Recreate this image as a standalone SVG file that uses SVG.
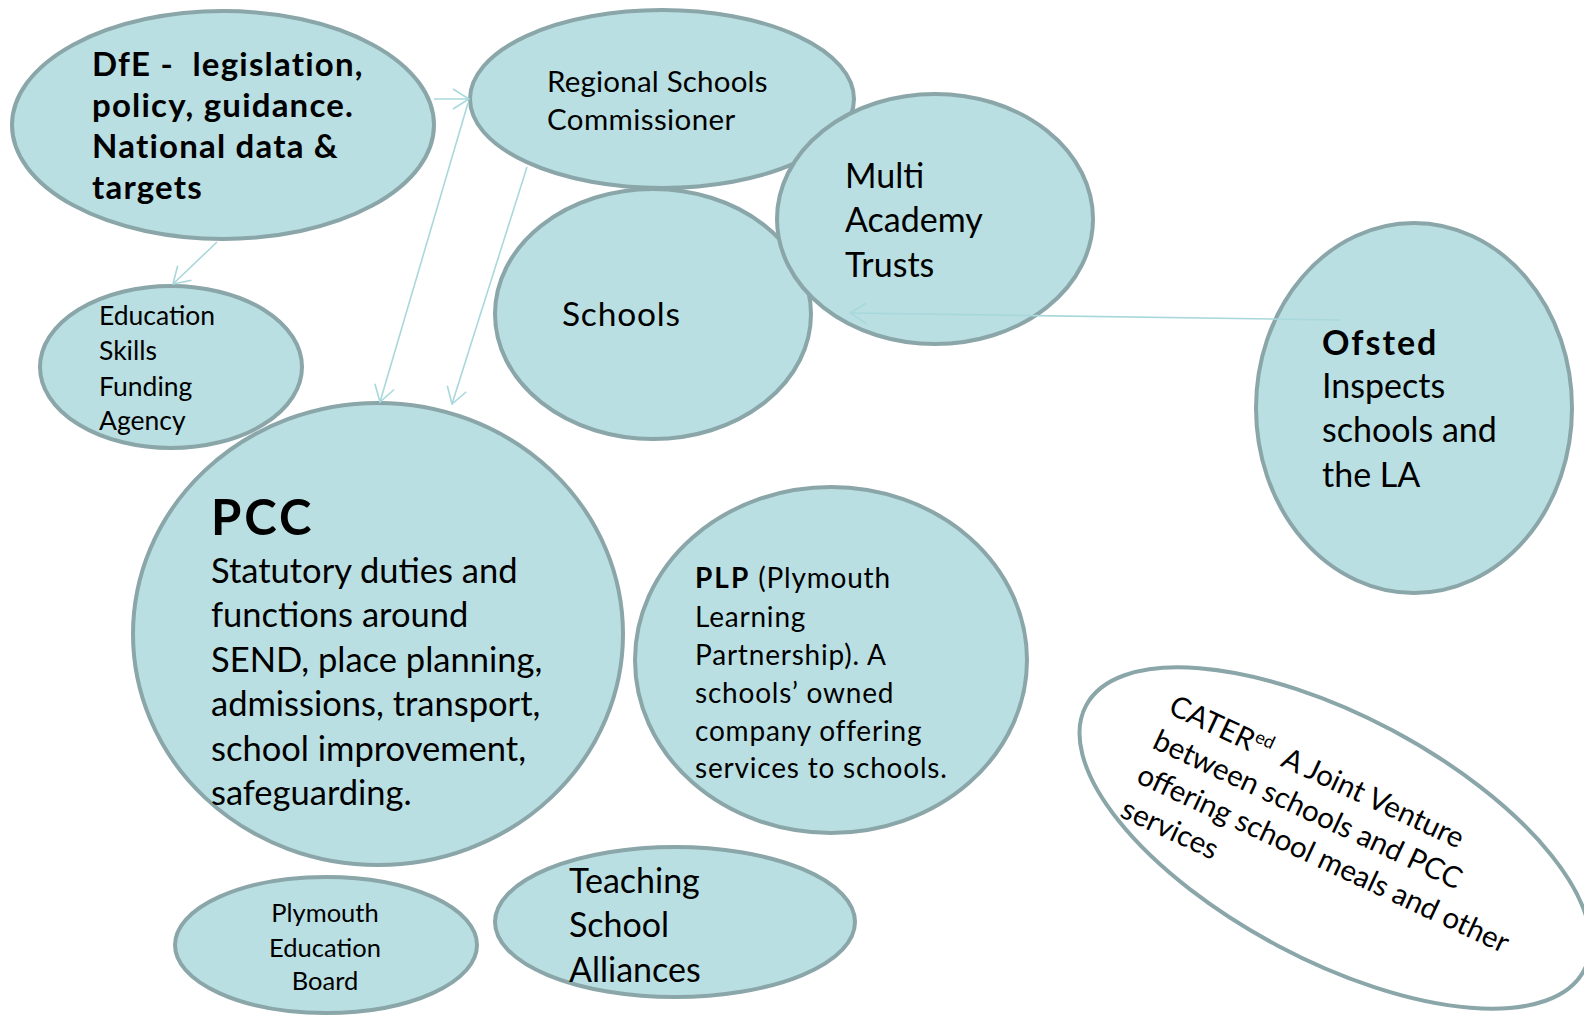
<svg xmlns="http://www.w3.org/2000/svg" width="1584" height="1015" viewBox="0 0 1584 1015">
  <style>
    .node { fill: #b9dfe2; stroke: #8aa6a9; stroke-width: 4; }
    .open { fill: #ffffff; stroke: #8aa6a9; stroke-width: 4; }
    .t { font-family: Lato, "Open Sans", "Liberation Sans", sans-serif; fill: #000000; }
    .b { font-weight: 700; }
    .link { fill: none; stroke: #a9d8dc; stroke-width: 1.6; }
  </style>
  <defs>
    <marker id="chevron" viewBox="0 0 18 22" refX="17" refY="11" markerWidth="18" markerHeight="22" markerUnits="userSpaceOnUse" orient="auto">
      <path d="M1,1 L17,11 L1,21" fill="none" stroke="#a9d8dc" stroke-width="1.6"/>
    </marker>
  </defs>

  <rect width="1584" height="1015" fill="#ffffff"/>

  <g id="dfe">
    <ellipse class="node" cx="223" cy="125" rx="211" ry="114"/>
    <text class="t b" font-size="33" letter-spacing="1.2" xml:space="preserve">
      <tspan x="92" y="76">DfE -  legislation,</tspan>
      <tspan x="92" y="117">policy, guidance.</tspan>
      <tspan x="92" y="158">National data &amp;</tspan>
      <tspan x="92" y="199">targets</tspan>
    </text>
  </g>

  <g id="rsc">
    <ellipse class="node" cx="662" cy="99" rx="192" ry="89"/>
    <text class="t" font-size="29.5" letter-spacing="0.2">
      <tspan x="547" y="92">Regional Schools</tspan>
      <tspan x="547" y="130" letter-spacing="0.4">Commissioner</tspan>
    </text>
  </g>

  <g id="schools">
    <ellipse class="node" cx="653" cy="314" rx="158" ry="125"/>
    <text class="t" font-size="33.5" letter-spacing="0.8" x="562" y="326">Schools</text>
  </g>

  <g id="mat">
    <ellipse class="node" cx="935" cy="219" rx="158" ry="125"/>
    <text class="t" font-size="34">
      <tspan x="845" y="188">Multi</tspan>
      <tspan x="845" y="232">Academy</tspan>
      <tspan x="845" y="277">Trusts</tspan>
    </text>
  </g>

  <g id="esfa">
    <ellipse class="node" cx="171" cy="367" rx="131" ry="81"/>
    <text class="t" font-size="26.5">
      <tspan x="99" y="325">Education</tspan>
      <tspan x="99" y="360">Skills</tspan>
      <tspan x="99" y="396">Funding</tspan>
      <tspan x="99" y="430">Agency</tspan>
    </text>
  </g>

  <g id="pcc">
    <ellipse class="node" cx="378" cy="634" rx="245" ry="231"/>
    <text class="t b" font-size="49" letter-spacing="3" x="211" y="535">PCC</text>
    <text class="t" font-size="34.5">
      <tspan x="211" y="583">Statutory duties and</tspan>
      <tspan x="211" y="627">functions around</tspan>
      <tspan x="211" y="672">SEND, place planning,</tspan>
      <tspan x="211" y="716">admissions, transport,</tspan>
      <tspan x="211" y="761">school improvement,</tspan>
      <tspan x="211" y="805">safeguarding.</tspan>
    </text>
  </g>

  <g id="plp">
    <ellipse class="node" cx="831" cy="660" rx="196" ry="173"/>
    <text class="t" font-size="28" letter-spacing="0.8">
      <tspan x="695" y="588"><tspan class="b" letter-spacing="2">PLP</tspan> (Plymouth</tspan>
      <tspan x="695" y="627">Learning</tspan>
      <tspan x="695" y="665">Partnership). A</tspan>
      <tspan x="695" y="703">schools’ owned</tspan>
      <tspan x="695" y="741">company offering</tspan>
      <tspan x="695" y="778">services to schools.</tspan>
    </text>
  </g>

  <g id="ofsted">
    <ellipse class="node" cx="1414" cy="408" rx="158" ry="185"/>
    <text class="t" font-size="34">
      <tspan class="b" letter-spacing="2" x="1322" y="355">Ofsted</tspan>
      <tspan x="1322" y="398">Inspects</tspan>
      <tspan x="1322" y="442">schools and</tspan>
      <tspan x="1322" y="487">the LA</tspan>
    </text>
  </g>

  <g id="tsa">
    <ellipse class="node" cx="675" cy="922" rx="180" ry="75"/>
    <text class="t" font-size="34">
      <tspan x="569" y="893">Teaching</tspan>
      <tspan x="569" y="937">School</tspan>
      <tspan x="569" y="982">Alliances</tspan>
    </text>
  </g>

  <g id="peb">
    <ellipse class="node" cx="326" cy="945" rx="151" ry="68"/>
    <text class="t" font-size="25.5" text-anchor="middle"><tspan x="325" y="922">Plymouth</tspan><tspan x="325" y="957">Education</tspan><tspan x="325" y="990">Board</tspan></text>
  </g>

  <g id="catered">
    <ellipse class="open" cx="1335" cy="838" rx="282" ry="122" transform="rotate(28 1335 838)"/>
    <text class="t" font-size="29.5" transform="translate(1167 713) rotate(25)" xml:space="preserve"><tspan x="0" y="0">CATER<tspan font-size="18" dy="-11">ed</tspan><tspan dy="11">  A Joint Venture</tspan></tspan><tspan x="0" y="38">between schools and PCC</tspan><tspan x="0" y="76">offering school meals and other</tspan><tspan x="0" y="114">services</tspan></text>
  </g>

  <g id="connectors">
    <line class="link" x1="434" y1="99" x2="469" y2="99" marker-end="url(#chevron)"/>
    <line class="link" x1="217" y1="242" x2="173" y2="284" marker-end="url(#chevron)"/>
    <line class="link" x1="468" y1="103" x2="380" y2="402" marker-end="url(#chevron)"/>
    <line class="link" x1="527" y1="167" x2="452" y2="404" marker-end="url(#chevron)"/>
    <line class="link" x1="1340" y1="320" x2="850" y2="313" marker-end="url(#chevron)"/>
  </g>
</svg>
